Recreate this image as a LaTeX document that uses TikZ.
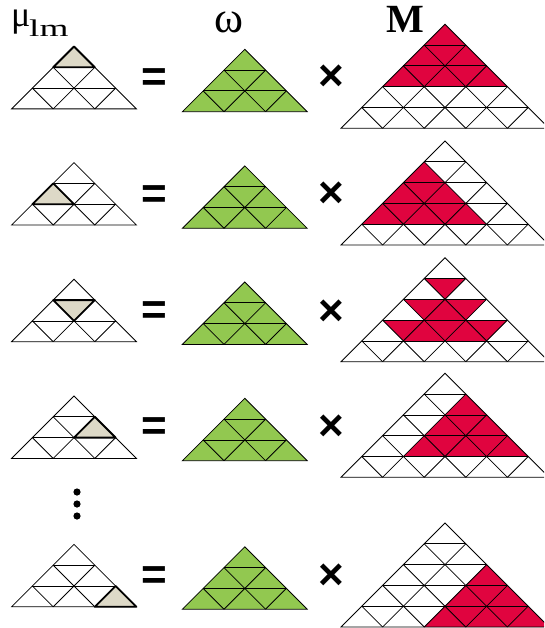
\documentclass[tikz,border=0pt]{standalone}
\usepackage{fontspec}
\setmainfont{Liberation Serif}
\newfontfamily\signfont{Liberation Sans}
\definecolor{cellgreen}{HTML}{92C850}
\definecolor{cellred}{HTML}{E0043F}
\definecolor{cellbeige}{HTML}{DDD9C7}
\def\tw{20.8}

% grid of #3 rows with its apex at (#1,#2)
\newcommand{\trigrid}[3]{%
  \pgfmathtruncatemacro\nrm{#3-1}
  \draw[gridline] (#1,#2) -- ++({-#3*\tw},{#3*\tw}) -- ++({2*#3*\tw},0) -- cycle;
  \foreach \k in {1,...,\nrm}{
    \draw[gridline] ({#1-\k*\tw},{#2+\k*\tw}) -- ++({2*\k*\tw},0);
    \draw[gridline] ({#1-(#3-2*\k)*\tw},{#2+#3*\tw}) -- ({#1+\k*\tw},{#2+\k*\tw});
    \draw[gridline] ({#1-(#3-2*\k)*\tw},{#2+#3*\tw}) -- ({#1-(#3-\k)*\tw},{#2+(#3-\k)*\tw});
  }}
% one cell (up / down) in row #4, place #5 of the grid with apex (#2,#3)
\newcommand{\upcell}[5][]{\path[#1] ({#2+(2*#5-#4)*\tw},{#3+#4*\tw}) -- ++(-\tw,\tw) -- ++({2*\tw},0) -- cycle;}
\newcommand{\dncell}[5][]{\path[#1] ({#2+(2*#5-#4)*\tw},{#3+#4*\tw}) -- ++({2*\tw},0) -- ++(-\tw,\tw) -- cycle;}
% filled block of 3 rows with apex (#2,#3)
\newcommand{\subtri}[3][]{\path[#1] (#2,#3) -- ++({-3*\tw},{3*\tw}) -- ++({6*\tw},0) -- cycle;}

\begin{document}
\begin{tikzpicture}[x=1pt, y=-1pt,
  gridline/.style={black, line width=0.8pt},
  pick/.style={fill=cellbeige, draw=black, line width=1.8pt, line join=round},
  sign/.style={inner sep=0pt, font=\signfont\bfseries\fontsize{44}{44}\selectfont}]
  \clip (0,0) rectangle (544,628);

  % titles
  \node[anchor=base west, inner sep=0pt, font=\fontsize{36}{36}\selectfont] (mulab) at (11,27) {μ};
  \node[anchor=base west, inner sep=0pt, font=\fontsize{24}{24}\selectfont] (lmlab) at (29,37) {\scalebox{1.55}[1]{lm}};
  \node[anchor=base, inner sep=0pt, font=\fontsize{44}{44}\selectfont] (omegalab) at (229,33) {ω};
  \node[anchor=base west, inner sep=0pt, font=\bfseries\fontsize{40}{40}\selectfont] (Mlab) at (386,33) {M};

  % red parts of M
  \subtri[fill=cellred]{445}{24.3}
  \subtri[fill=cellred]{424.2}{161.8}
  \dncell[fill=cellred]{445}{257.7}{1}{0}
  \foreach \j in {0,1} \dncell[fill=cellred]{445}{257.7}{2}{\j};
  \upcell[fill=cellred]{445}{257.7}{2}{1}
  \foreach \j in {0,1,2} \dncell[fill=cellred]{445}{257.7}{3}{\j};
  \foreach \j in {1,2} \upcell[fill=cellred]{445}{257.7}{3}{\j};
  \subtri[fill=cellred]{465.8}{394.1}
  \subtri[fill=cellred]{486.6}{564.6}

  % rows: mu = omega x M
  \foreach \r/\ly/\gy/\my/\ey/\xy in {1/46.5/49.3/24.3/80/78, 2/162.6/165.9/141/196.7/195,
      3/279.3/282/257.7/313.3/313, 4/396/398.3/373.3/429.3/428, 5/544.4/546.8/523/578/576.4}{
    \subtri[fill=cellgreen]{244.8}{\gy}
    \trigrid{74}{\ly}{3}
    \trigrid{244.8}{\gy}{3}
    \trigrid{445}{\my}{5}
    \node[sign] (eq\r) at (154,\ey) {=};
    \node[sign] (times\r) at (331,\xy) {×};
  }

  % the chosen cell of mu
  \upcell[pick]{74}{46.5}{0}{0}
  \upcell[pick]{74}{162.6}{1}{0}
  \dncell[pick]{74}{279.3}{1}{0}
  \upcell[pick]{74}{396}{1}{1}
  \upcell[pick]{74}{544.4}{2}{2}

  % dots
  \foreach \dy in {492,504,516} \fill (77,\dy) circle (3.6);
\end{tikzpicture}
\end{document}
